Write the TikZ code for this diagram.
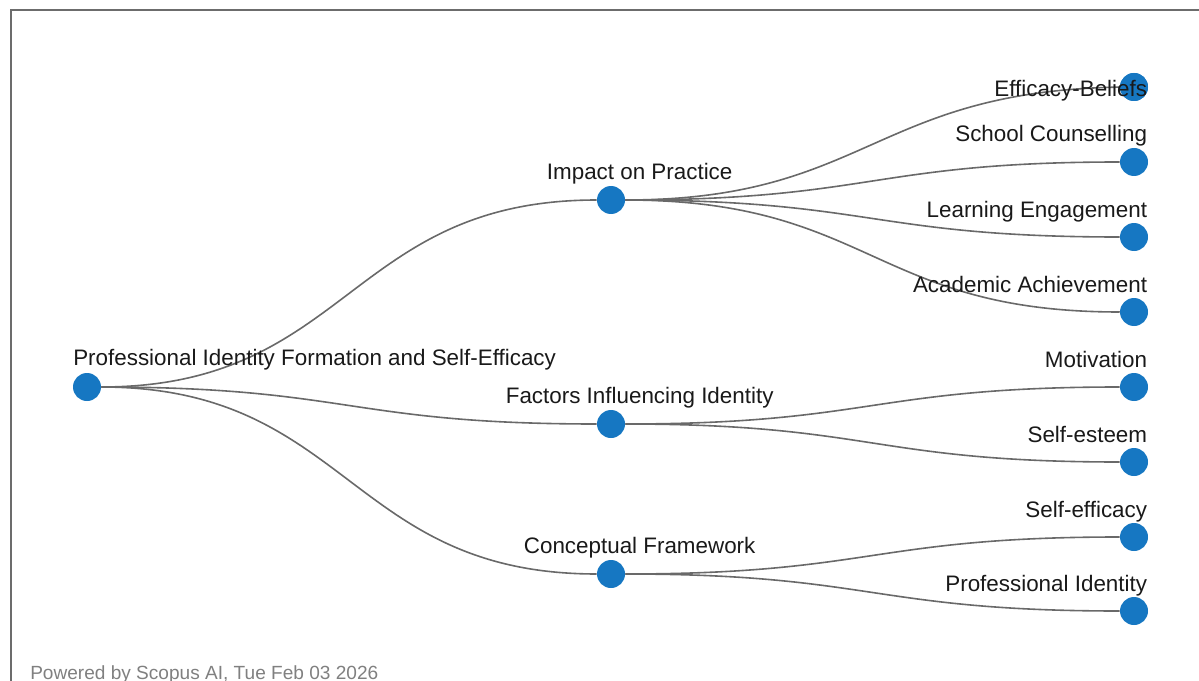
\documentclass[tikz,border=0pt]{standalone}
\usepackage{fontspec}
\setmainfont{Liberation Sans}
\usepackage{xcolor}
\usepackage{tikz}
\definecolor{topicblue}{RGB}{22,119,194}
\definecolor{linkgray}{RGB}{105,105,105}
\tikzstyle{node:topic}=[circle,fill=topicblue,minimum size=21pt,inner sep=0pt]
\tikzstyle{node:label}=[inner sep=0pt,font=\fontsize{16.8pt}{19pt}\selectfont,text=black!90]
\tikzstyle{node:leaflabel}=[node:label,anchor=base east,xshift=10pt]
\tikzstyle{node:midlabel}=[node:label,anchor=base,xshift=21.5pt,yshift=15.5pt]
\tikzstyle{draw:link}=[linkgray,line width=1.2pt]

\begin{document}
\begin{tikzpicture}[x=0.75pt, y=-0.75pt]
        \useasboundingbox (0,0) rectangle (1199,681);

        % Frame
        \draw[gray!85!black, line width=1.5pt] (1199,10.5) -- (10.5,10.5) -- (10.5,681);

        % Root
        \node[node:topic] (root) at (87,387) {};

        % Themes
        \node[node:topic] (impact) at (611,200) {};
        \node[node:topic] (factors) at (611,424) {};
        \node[node:topic] (framework) at (611,574) {};

        % Leaves
        \node[node:topic] (beliefs) at (1134,87) {};
        \node[node:topic] (counselling) at (1134,162) {};
        \node[node:topic] (engagement) at (1134,237) {};
        \node[node:topic] (achievement) at (1134,312) {};
        \node[node:topic] (motivation) at (1134,387) {};
        \node[node:topic] (esteem) at (1134,462) {};
        \node[node:topic] (efficacy) at (1134,537) {};
        \node[node:topic] (identity) at (1134,611) {};

        % Links from the root
        \draw[draw:link] (root) .. controls +(262,0) and +(-262,0) .. (impact);
        \draw[draw:link] (root) .. controls +(262,0) and +(-262,0) .. (factors);
        \draw[draw:link] (root) .. controls +(262,0) and +(-262,0) .. (framework);

        % Links to the leaves
        \draw[draw:link] (impact) .. controls +(261,0) and +(-261,0) .. (beliefs.center);
        \draw[draw:link] (impact) .. controls +(261,0) and +(-261,0) .. (counselling);
        \draw[draw:link] (impact) .. controls +(261,0) and +(-261,0) .. (engagement);
        \draw[draw:link] (impact) .. controls +(261,0) and +(-261,0) .. (achievement);
        \draw[draw:link] (factors) .. controls +(261,0) and +(-261,0) .. (motivation);
        \draw[draw:link] (factors) .. controls +(261,0) and +(-261,0) .. (esteem);
        \draw[draw:link] (framework) .. controls +(261,0) and +(-261,0) .. (efficacy);
        \draw[draw:link] (framework) .. controls +(261,0) and +(-261,0) .. (identity);
        \node[node:topic] (beliefs_dot) at (beliefs) {};

        % Labels
        \node[node:label, anchor=base west, xshift=-10.5pt, yshift=16.5pt] (root_label) at (root) {Professional Identity Formation and Self-Efficacy};
        \node[node:midlabel] (impact_label) at (impact) {Impact on Practice};
        \node[node:midlabel] (factors_label) at (factors) {Factors Influencing Identity};
        \node[node:midlabel] (framework_label) at (framework) {Conceptual Framework};

        \node[node:leaflabel, yshift=-6.8pt] (beliefs_label) at (beliefs) {Efficacy-Beliefs};
        \node[node:leaflabel, yshift=15pt] (counselling_label) at (counselling) {School Counselling};
        \node[node:leaflabel, yshift=15pt] (engagement_label) at (engagement) {Learning Engagement};
        \node[node:leaflabel, yshift=15pt] (achievement_label) at (achievement) {Academic Achievement};
        \node[node:leaflabel, yshift=15pt] (motivation_label) at (motivation) {Motivation};
        \node[node:leaflabel, yshift=15pt] (esteem_label) at (esteem) {Self-esteem};
        \node[node:leaflabel, yshift=15pt] (efficacy_label) at (efficacy) {Self-efficacy};
        \node[node:leaflabel, yshift=15pt] (identity_label) at (identity) {Professional Identity};

        % Footer
        \node[inner sep=0pt, anchor=base west, text=gray, font=\fontsize{14.3pt}{17pt}\selectfont] (footer) at (30,679) {Powered by Scopus AI, Tue Feb 03 2026};
\end{tikzpicture}
\end{document}
